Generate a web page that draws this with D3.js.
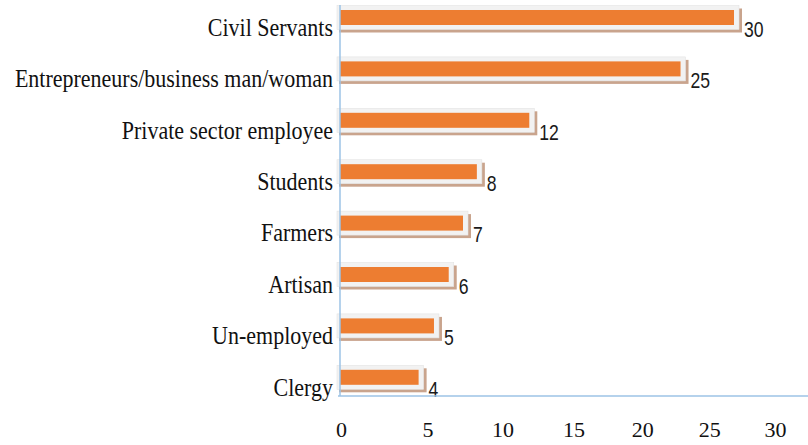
<!DOCTYPE html>
<html>
<head>
<meta charset="utf-8">
<script src="https://cdn.jsdelivr.net/npm/d3@7/dist/d3.min.js"></script>
<style>
  html, body { margin: 0; padding: 0; background: #ffffff; }
  svg { display: block; }
</style>
</head>
<body>
<svg id="chart" width="808" height="445"></svg>
<script>
// Respondents by occupation
const categories = [
  "Civil Servants",
  "Entrepreneurs/business man/woman",
  "Private sector employee",
  "Students",
  "Farmers",
  "Artisan",
  "Un-employed",
  "Clergy"
];
const values = [30, 25, 12, 8, 7, 6, 5, 4];
const xTicks = [0, 5, 10, 15, 20, 25, 30];

const W = 808, H = 445;
const svg = d3.select("#chart");

// 3-D style chart: the floor axis and the bar plane are both foreshortened
// toward the back, so the value scales compress with distance.
const x = d3.scalePow().exponent(0.9).domain([0, 30]).range([341, 775]);
const xBar = d3.scalePow().exponent(0.8).domain([0, 30]).range([340, 734]);
const y = d3.scaleBand().domain(categories).range([2.3, 413.5]);

const axisColor = "#9DC3E6";
const orange = "#ED7D31";
const frameFill = "#F2F2F2";
const shadowFill = "#C9A48D";
const serif = "'Liberation Serif', 'Times New Roman', serif";

// Bars: pale frame, brown drop shadow, orange face
const rows = categories.map((c, i) => ({ cat: c, val: values[i] }));
const g = svg.append("g");
const barH = 15;

const rowG = g.selectAll("g.row").data(rows).join("g").attr("class", "row")
  .attr("transform", d => `translate(0, ${y(d.cat) + y.bandwidth() / 2 - 10.5})`);

rowG.append("rect")
  .attr("x", xBar(0) - 1)
  .attr("y", -12 + 3)
  .attr("width", d => xBar(d.val) - xBar(0) + 9)
  .attr("height", 24)
  .attr("fill", shadowFill);

rowG.append("rect")
  .attr("x", xBar(0) - 3)
  .attr("y", -12)
  .attr("width", d => xBar(d.val) - xBar(0) + 8)
  .attr("height", 24)
  .attr("fill", frameFill)
  .attr("stroke", "#E4E4E4")
  .attr("stroke-width", 0.6);

rowG.append("rect")
  .attr("x", xBar(0))
  .attr("y", -barH / 2)
  .attr("width", d => xBar(d.val) - xBar(0))
  .attr("height", barH)
  .attr("fill", orange);

// Value labels at the lower right of each bar
g.selectAll("text.val").data(rows).join("text").attr("class", "val")
  .attr("transform", d => `translate(${xBar(d.val) + 10}, ${y(d.cat) + y.bandwidth() / 2 + 1}) scale(0.8, 1)`)
  .attr("dominant-baseline", "central")
  .attr("font-family", "'Liberation Sans', Arial, sans-serif")
  .attr("font-size", 22)
  .attr("fill", "#1a1a1a")
  .text(d => d.val);

// Axis lines
svg.append("line")
  .attr("x1", 340).attr("x2", 340)
  .attr("y1", 5).attr("y2", 396)
  .attr("stroke", axisColor).attr("stroke-width", 1.5);
svg.append("line")
  .attr("x1", 338).attr("x2", W)
  .attr("y1", 396).attr("y2", 396)
  .attr("stroke", axisColor).attr("stroke-width", 1.5);

// Category axis
const yAxis = svg.append("g")
  .attr("transform", "translate(340,0)")
  .call(d3.axisLeft(y).tickSize(0).tickPadding(7));
yAxis.select(".domain").remove();
yAxis.selectAll("text")
  .attr("font-family", serif)
  .attr("font-size", 22)
  .attr("transform", "scale(1, 1.1)")
  .attr("fill", "#111");

// Value axis
const xAxis = svg.append("g")
  .attr("transform", "translate(0,396)")
  .call(d3.axisBottom(x).tickValues(xTicks).tickSize(0).tickPadding(25));
xAxis.select(".domain").remove();
xAxis.selectAll("text")
  .attr("font-family", serif)
  .attr("font-size", 22)
  .attr("fill", "#111");
</script>
</body>
</html>
